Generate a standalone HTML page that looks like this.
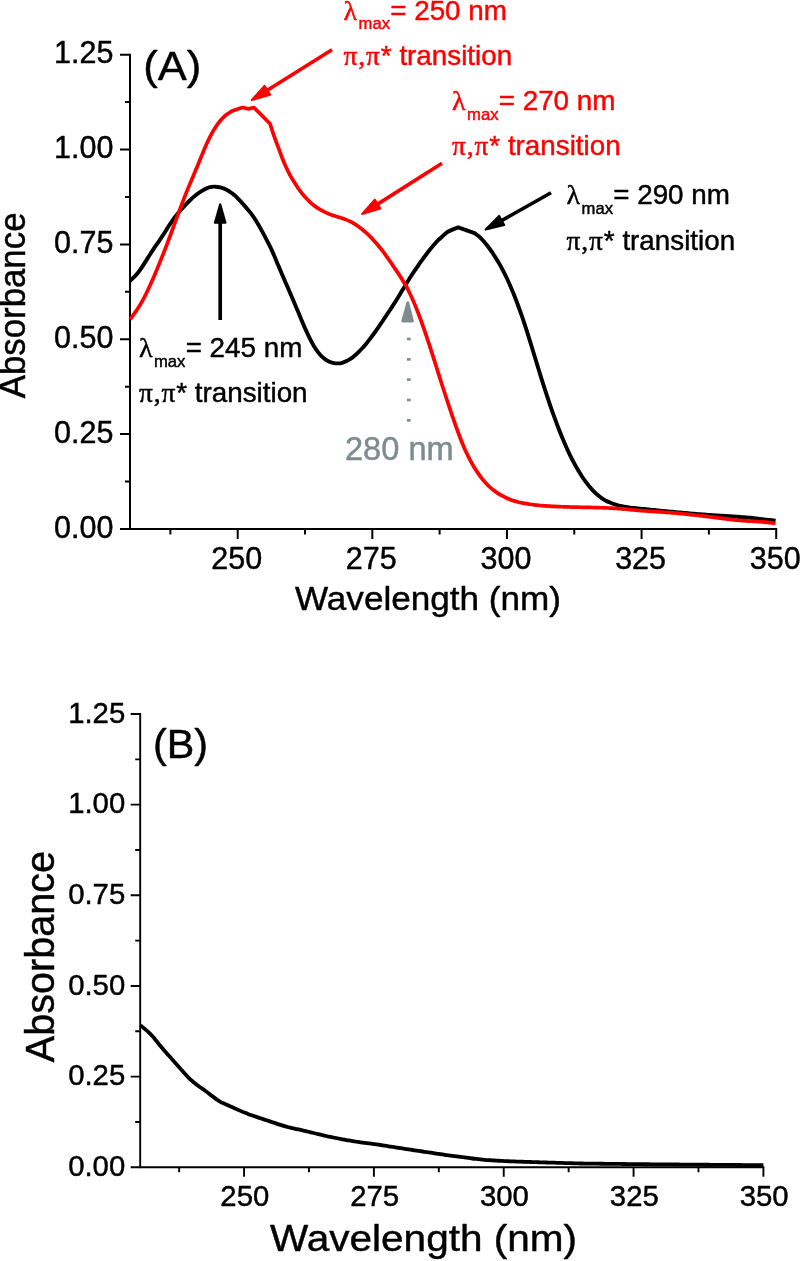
<!DOCTYPE html>
<html lang="en">
<head>
<meta charset="utf-8">
<title>UV-Vis absorbance spectra</title>
<style>
html,body{margin:0;padding:0;background:#fff;}
body{width:800px;height:1261px;overflow:hidden;}
svg{display:block;will-change:transform;}
text{font-family:"Liberation Sans",Arial,Helvetica,sans-serif;fill:#000;stroke:#000;stroke-width:0.45px;stroke-linejoin:round;}
.sym{font-family:"Liberation Serif","Times New Roman",serif;}
.red{fill:#ff0000;stroke:#ff0000;}
.gray{fill:#7f8c8d;stroke:#7f8c8d;}
</style>
</head>
<body>
<svg width="800" height="1261" viewBox="0 0 800 1261">
<rect width="800" height="1261" fill="#fff"/>
<g stroke="#000" stroke-width="2" fill="none" stroke-linecap="butt">
<path d="M130.00 53.70V528.90H777.20"/>
<path d="M130.00 528.90H120.00M130.00 434.06H120.00M130.00 339.22H120.00M130.00 244.38H120.00M130.00 149.54H120.00M130.00 54.70H120.00M130.00 481.48H125.00M130.00 386.64H125.00M130.00 291.80H125.00M130.00 196.96H125.00M130.00 102.12H125.00M237.70 528.90V538.90M372.33 528.90V538.90M506.95 528.90V538.90M641.58 528.90V538.90M776.20 528.90V538.90M170.39 528.90V534.40M305.01 528.90V534.40M439.64 528.90V534.40M574.26 528.90V534.40M708.89 528.90V534.40"/>
</g>
<g font-size="30.5" text-anchor="end">
<text x="113.4" y="537.6">0.00</text>
<text x="113.4" y="442.8">0.25</text>
<text x="113.4" y="347.9">0.50</text>
<text x="113.4" y="253.1">0.75</text>
<text x="113.4" y="158.2">1.00</text>
<text x="113.4" y="63.4">1.25</text>
</g>
<g font-size="30.5" text-anchor="middle">
<text x="236.7" y="568.7">250</text>
<text x="371.3" y="568.7">275</text>
<text x="505.9" y="568.7">300</text>
<text x="640.6" y="568.7">325</text>
<text x="775.2" y="568.7">350</text>
</g>
<text x="295" y="610.4" font-size="33.6" textLength="266" lengthAdjust="spacingAndGlyphs">Wavelength (nm)</text>
<text transform="translate(25.2,398.3) rotate(-90)" font-size="36" textLength="185.8" lengthAdjust="spacingAndGlyphs">Absorbance</text>
<text x="143.3" y="79.6" font-size="41" textLength="58" lengthAdjust="spacingAndGlyphs">(A)</text>
<path d="M130.00 280.80C130.67 280.20 132.67 278.55 134.00 277.20C135.33 275.86 136.67 274.42 138.00 272.75C139.33 271.07 140.67 269.15 142.00 267.17C143.33 265.18 144.67 262.96 146.00 260.84C147.33 258.72 148.67 256.50 150.00 254.43C151.33 252.36 152.67 250.37 154.00 248.40C155.33 246.43 156.67 244.56 158.00 242.61C159.33 240.65 160.67 238.70 162.00 236.67C163.33 234.64 164.67 232.52 166.00 230.43C167.33 228.34 168.67 226.14 170.00 224.12C171.33 222.09 172.67 220.10 174.00 218.29C175.33 216.48 176.67 214.83 178.00 213.23C179.33 211.63 180.67 210.15 182.00 208.67C183.33 207.19 184.67 205.74 186.00 204.34C187.33 202.94 188.67 201.55 190.00 200.27C191.33 198.98 192.67 197.75 194.00 196.62C195.33 195.49 196.67 194.45 198.00 193.48C199.33 192.51 200.67 191.62 202.00 190.81C203.33 190.00 204.67 189.22 206.00 188.62C207.33 188.01 208.67 187.49 210.00 187.17C211.33 186.84 212.67 186.70 214.00 186.66C215.33 186.63 216.67 186.76 218.00 186.96C219.33 187.17 220.67 187.47 222.00 187.89C223.33 188.31 224.67 188.83 226.00 189.48C227.33 190.13 228.67 190.91 230.00 191.80C231.33 192.69 232.67 193.72 234.00 194.85C235.33 195.97 236.67 197.24 238.00 198.57C239.33 199.89 240.67 201.35 242.00 202.82C243.33 204.28 244.67 205.80 246.00 207.36C247.33 208.92 248.67 210.45 250.00 212.17C251.33 213.88 252.67 215.65 254.00 217.63C255.33 219.61 256.67 221.81 258.00 224.06C259.33 226.32 260.67 228.75 262.00 231.16C263.33 233.57 264.67 235.98 266.00 238.53C267.33 241.08 268.67 243.65 270.00 246.45C271.33 249.25 272.67 252.26 274.00 255.32C275.33 258.37 276.67 261.62 278.00 264.77C279.33 267.93 280.67 271.11 282.00 274.23C283.33 277.34 284.67 280.40 286.00 283.47C287.33 286.55 288.67 289.58 290.00 292.66C291.33 295.75 292.67 298.84 294.00 301.99C295.33 305.13 296.67 308.34 298.00 311.53C299.33 314.72 300.67 318.00 302.00 321.15C303.33 324.29 304.67 327.46 306.00 330.42C307.33 333.38 308.67 336.25 310.00 338.88C311.33 341.51 312.67 343.99 314.00 346.20C315.33 348.41 316.67 350.40 318.00 352.15C319.33 353.89 320.67 355.37 322.00 356.66C323.33 357.95 324.67 358.98 326.00 359.86C327.33 360.74 328.67 361.41 330.00 361.96C331.33 362.50 332.67 362.87 334.00 363.11C335.33 363.35 336.67 363.45 338.00 363.39C339.33 363.34 340.67 363.12 342.00 362.78C343.33 362.43 344.67 361.94 346.00 361.33C347.33 360.72 348.67 359.98 350.00 359.12C351.33 358.25 352.67 357.24 354.00 356.15C355.33 355.07 356.67 353.87 358.00 352.60C359.33 351.33 360.67 349.99 362.00 348.54C363.33 347.10 364.67 345.55 366.00 343.94C367.33 342.33 368.67 340.62 370.00 338.88C371.33 337.14 372.67 335.34 374.00 333.50C375.33 331.66 376.67 329.76 378.00 327.84C379.33 325.92 380.67 323.94 382.00 321.97C383.33 319.99 384.67 317.99 386.00 315.99C387.33 313.99 388.67 312.00 390.00 309.97C391.33 307.95 392.67 305.93 394.00 303.84C395.33 301.76 396.67 299.64 398.00 297.48C399.33 295.31 400.67 293.07 402.00 290.85C403.33 288.64 404.67 286.37 406.00 284.19C407.33 282.00 408.67 279.85 410.00 277.75C411.33 275.66 412.67 273.63 414.00 271.63C415.33 269.64 416.67 267.69 418.00 265.78C419.33 263.87 420.67 261.99 422.00 260.15C423.33 258.31 424.67 256.51 426.00 254.74C427.33 252.97 428.67 251.22 430.00 249.55C431.33 247.87 432.67 246.22 434.00 244.69C435.33 243.15 436.67 241.69 438.00 240.35C439.33 239.02 440.42 238.11 442.00 236.70C443.58 235.29 446.58 232.70 447.50 231.90L453.00 229.40L458.20 227.40L474.50 233.10L479.50 236.80L483.50 241.00L488.00 246.50L492.50 252.75L492.50 252.75C493.42 254.22 496.42 258.93 498.00 261.58C499.58 264.23 500.67 266.14 502.00 268.62C503.33 271.11 504.67 273.73 506.00 276.50C507.33 279.27 508.67 282.18 510.00 285.23C511.33 288.28 512.67 291.48 514.00 294.81C515.33 298.14 516.67 301.61 518.00 305.21C519.33 308.82 520.67 312.57 522.00 316.45C523.33 320.32 524.67 324.35 526.00 328.46C527.33 332.57 528.67 336.84 530.00 341.13C531.33 345.42 532.67 349.84 534.00 354.21C535.33 358.58 536.67 363.02 538.00 367.37C539.33 371.71 540.67 376.06 542.00 380.30C543.33 384.54 544.67 388.73 546.00 392.81C547.33 396.90 548.67 400.90 550.00 404.79C551.33 408.69 552.67 412.49 554.00 416.18C555.33 419.88 556.67 423.48 558.00 426.96C559.33 430.43 560.67 433.81 562.00 437.05C563.33 440.30 564.67 443.42 566.00 446.42C567.33 449.42 568.67 452.29 570.00 455.05C571.33 457.81 572.67 460.45 574.00 462.96C575.33 465.48 576.67 467.86 578.00 470.11C579.33 472.37 580.67 474.47 582.00 476.49C583.33 478.50 584.67 480.39 586.00 482.19C587.33 483.99 588.67 485.70 590.00 487.29C591.33 488.87 592.67 490.36 594.00 491.71C595.33 493.05 596.67 494.26 598.00 495.37C599.33 496.47 600.67 497.44 602.00 498.32C603.33 499.21 604.67 499.98 606.00 500.68C607.33 501.39 608.67 501.99 610.00 502.56C611.33 503.12 612.67 503.60 614.00 504.05C615.33 504.50 616.67 504.90 618.00 505.27C619.33 505.63 620.67 505.96 622.00 506.26C623.33 506.55 624.67 506.81 626.00 507.03C627.33 507.25 628.67 507.42 630.00 507.59C631.33 507.75 632.67 507.89 634.00 508.03C635.33 508.17 636.67 508.30 638.00 508.43C639.33 508.56 640.67 508.70 642.00 508.83C643.33 508.96 644.67 509.10 646.00 509.23C647.33 509.36 648.67 509.50 650.00 509.63C651.33 509.77 652.67 509.90 654.00 510.04C655.33 510.17 656.67 510.31 658.00 510.44C659.33 510.57 660.67 510.71 662.00 510.84C663.33 510.98 664.67 511.11 666.00 511.24C667.33 511.37 668.67 511.50 670.00 511.63C671.33 511.75 672.67 511.87 674.00 511.99C675.33 512.12 676.67 512.23 678.00 512.35C679.33 512.47 680.67 512.59 682.00 512.70C683.33 512.82 684.67 512.94 686.00 513.05C687.33 513.17 688.67 513.29 690.00 513.40C691.33 513.52 692.67 513.64 694.00 513.75C695.33 513.87 696.67 513.98 698.00 514.09C699.33 514.20 700.67 514.31 702.00 514.41C703.33 514.51 704.67 514.61 706.00 514.70C707.33 514.79 708.67 514.87 710.00 514.96C711.33 515.04 712.67 515.12 714.00 515.21C715.33 515.29 716.67 515.37 718.00 515.45C719.33 515.54 720.67 515.62 722.00 515.70C723.33 515.78 724.67 515.86 726.00 515.95C727.33 516.03 728.67 516.11 730.00 516.20C731.33 516.29 732.67 516.38 734.00 516.47C735.33 516.57 736.67 516.67 738.00 516.77C739.33 516.88 740.67 516.99 742.00 517.10C743.33 517.21 744.67 517.32 746.00 517.43C747.33 517.55 748.67 517.66 750.00 517.79C751.33 517.91 752.67 518.03 754.00 518.17C755.33 518.31 756.67 518.46 758.00 518.61C759.33 518.76 760.67 518.92 762.00 519.08C763.33 519.24 764.67 519.41 766.00 519.57C767.33 519.73 768.67 519.89 770.00 520.03C771.33 520.18 773.08 520.31 774.00 520.43C774.92 520.55 775.25 520.70 775.50 520.75" fill="none" stroke="#000" stroke-width="3.9" stroke-linejoin="round" stroke-linecap="butt"/>
<path d="M130.00 319.40C130.67 318.50 132.67 315.85 134.00 314.00C135.33 312.14 136.67 310.31 138.00 308.25C139.33 306.20 140.67 304.05 142.00 301.67C143.33 299.30 144.67 296.70 146.00 294.00C147.33 291.30 148.67 288.40 150.00 285.47C151.33 282.54 152.67 279.49 154.00 276.40C155.33 273.31 156.67 270.15 158.00 266.92C159.33 263.69 160.67 260.40 162.00 257.05C163.33 253.70 164.67 250.28 166.00 246.81C167.33 243.34 168.67 239.80 170.00 236.23C171.33 232.65 172.67 228.99 174.00 225.36C175.33 221.72 176.67 218.03 178.00 214.42C179.33 210.81 180.67 207.20 182.00 203.70C183.33 200.20 184.67 196.75 186.00 193.40C187.33 190.05 188.67 186.82 190.00 183.63C191.33 180.43 192.67 177.38 194.00 174.22C195.33 171.06 196.67 167.91 198.00 164.68C199.33 161.45 200.67 158.06 202.00 154.83C203.33 151.60 204.67 148.31 206.00 145.31C207.33 142.31 208.67 139.45 210.00 136.83C211.33 134.21 212.67 131.81 214.00 129.60C215.33 127.39 216.67 125.39 218.00 123.57C219.33 121.76 220.67 120.15 222.00 118.72C223.33 117.29 224.67 116.08 226.00 115.01C227.33 113.94 228.67 113.09 230.00 112.31C231.33 111.53 231.90 111.14 234.00 110.34C236.10 109.54 241.17 107.97 242.60 107.50L248.25 108.90L253.90 107.50L261.50 115.00L270.00 123.75L270.00 123.75C270.67 125.78 272.67 132.12 274.00 135.94C275.33 139.75 276.67 143.07 278.00 146.66C279.33 150.25 280.67 154.07 282.00 157.48C283.33 160.89 284.67 164.18 286.00 167.11C287.33 170.05 288.67 172.62 290.00 175.08C291.33 177.53 292.67 179.70 294.00 181.84C295.33 183.98 296.67 186.01 298.00 187.94C299.33 189.86 300.67 191.71 302.00 193.40C303.33 195.10 304.67 196.65 306.00 198.10C307.33 199.55 308.67 200.86 310.00 202.08C311.33 203.30 312.67 204.41 314.00 205.43C315.33 206.46 316.67 207.38 318.00 208.25C319.33 209.11 320.67 209.89 322.00 210.63C323.33 211.36 324.67 212.04 326.00 212.66C327.33 213.29 328.67 213.86 330.00 214.39C331.33 214.91 332.67 215.36 334.00 215.80C335.33 216.23 336.67 216.58 338.00 216.98C339.33 217.37 340.67 217.73 342.00 218.18C343.33 218.62 344.67 219.09 346.00 219.64C347.33 220.19 348.67 220.80 350.00 221.47C351.33 222.13 352.67 222.86 354.00 223.66C355.33 224.46 356.67 225.32 358.00 226.25C359.33 227.18 360.67 228.18 362.00 229.24C363.33 230.31 364.67 231.44 366.00 232.63C367.33 233.83 368.67 235.10 370.00 236.43C371.33 237.77 372.67 239.17 374.00 240.63C375.33 242.10 376.67 243.64 378.00 245.24C379.33 246.84 380.67 248.51 382.00 250.24C383.33 251.97 384.67 253.77 386.00 255.62C387.33 257.46 388.67 259.39 390.00 261.31C391.33 263.24 392.67 265.21 394.00 267.17C395.33 269.12 396.67 271.06 398.00 273.06C399.33 275.07 400.67 277.04 402.00 279.19C403.33 281.34 404.67 283.53 406.00 285.96C407.33 288.38 408.67 290.96 410.00 293.74C411.33 296.51 412.67 299.49 414.00 302.62C415.33 305.75 416.67 309.08 418.00 312.53C419.33 315.98 420.67 319.60 422.00 323.32C423.33 327.03 424.67 330.89 426.00 334.82C427.33 338.75 428.67 342.80 430.00 346.89C431.33 350.99 432.67 355.21 434.00 359.41C435.33 363.61 436.67 367.90 438.00 372.12C439.33 376.33 440.67 380.56 442.00 384.72C443.33 388.87 444.67 392.98 446.00 397.04C447.33 401.10 448.67 405.12 450.00 409.08C451.33 413.04 452.67 416.97 454.00 420.79C455.33 424.61 456.67 428.40 458.00 432.01C459.33 435.62 460.67 439.16 462.00 442.47C463.33 445.78 464.67 448.93 466.00 451.85C467.33 454.76 468.67 457.44 470.00 459.96C471.33 462.47 472.67 464.76 474.00 466.95C475.33 469.14 476.67 471.16 478.00 473.09C479.33 475.03 480.67 476.84 482.00 478.53C483.33 480.23 484.67 481.81 486.00 483.26C487.33 484.72 488.67 486.04 490.00 487.26C491.33 488.47 492.67 489.56 494.00 490.57C495.33 491.59 496.67 492.49 498.00 493.34C499.33 494.20 500.67 494.97 502.00 495.70C503.33 496.44 504.67 497.11 506.00 497.74C507.33 498.36 508.67 498.94 510.00 499.46C511.33 499.99 512.67 500.45 514.00 500.87C515.33 501.29 516.67 501.65 518.00 501.98C519.33 502.31 520.67 502.60 522.00 502.88C523.33 503.15 524.67 503.40 526.00 503.62C527.33 503.85 528.67 504.06 530.00 504.25C531.33 504.45 532.67 504.62 534.00 504.79C535.33 504.96 536.67 505.12 538.00 505.26C539.33 505.40 540.67 505.53 542.00 505.64C543.33 505.75 544.67 505.85 546.00 505.94C547.33 506.03 548.67 506.11 550.00 506.19C551.33 506.27 552.67 506.34 554.00 506.41C555.33 506.48 556.67 506.55 558.00 506.60C559.33 506.66 560.67 506.71 562.00 506.76C563.33 506.81 564.67 506.85 566.00 506.89C567.33 506.93 568.67 506.97 570.00 507.01C571.33 507.05 572.67 507.08 574.00 507.11C575.33 507.15 576.67 507.18 578.00 507.21C579.33 507.24 580.67 507.26 582.00 507.29C583.33 507.32 584.67 507.34 586.00 507.37C587.33 507.40 588.67 507.42 590.00 507.45C591.33 507.48 592.67 507.50 594.00 507.53C595.33 507.56 596.67 507.59 598.00 507.62C599.33 507.65 600.67 507.68 602.00 507.73C603.33 507.77 604.67 507.82 606.00 507.88C607.33 507.94 608.67 508.01 610.00 508.09C611.33 508.16 612.67 508.25 614.00 508.33C615.33 508.41 616.67 508.50 618.00 508.59C619.33 508.68 620.67 508.78 622.00 508.88C623.33 508.98 624.67 509.09 626.00 509.21C627.33 509.33 628.67 509.46 630.00 509.59C631.33 509.72 632.67 509.86 634.00 509.99C635.33 510.12 636.67 510.25 638.00 510.38C639.33 510.50 640.67 510.62 642.00 510.73C643.33 510.83 644.67 510.93 646.00 511.03C647.33 511.12 648.67 511.21 650.00 511.30C651.33 511.39 652.67 511.47 654.00 511.56C655.33 511.65 656.67 511.73 658.00 511.82C659.33 511.91 660.67 511.99 662.00 512.08C663.33 512.17 664.67 512.26 666.00 512.36C667.33 512.45 668.67 512.55 670.00 512.66C671.33 512.77 672.67 512.88 674.00 513.00C675.33 513.13 676.67 513.25 678.00 513.38C679.33 513.51 680.67 513.64 682.00 513.77C683.33 513.90 684.67 514.03 686.00 514.17C687.33 514.31 688.67 514.44 690.00 514.59C691.33 514.73 692.67 514.88 694.00 515.03C695.33 515.18 696.67 515.33 698.00 515.48C699.33 515.63 700.67 515.79 702.00 515.94C703.33 516.10 704.67 516.25 706.00 516.40C707.33 516.56 708.67 516.71 710.00 516.87C711.33 517.02 712.67 517.18 714.00 517.34C715.33 517.50 716.67 517.66 718.00 517.82C719.33 517.98 720.67 518.15 722.00 518.31C723.33 518.48 724.67 518.65 726.00 518.81C727.33 518.98 728.67 519.15 730.00 519.31C731.33 519.48 732.67 519.64 734.00 519.80C735.33 519.96 736.67 520.12 738.00 520.26C739.33 520.41 740.67 520.54 742.00 520.65C743.33 520.76 744.67 520.85 746.00 520.94C747.33 521.02 748.67 521.09 750.00 521.16C751.33 521.23 752.67 521.30 754.00 521.37C755.33 521.44 756.67 521.52 758.00 521.61C759.33 521.70 760.67 521.80 762.00 521.91C763.33 522.02 764.67 522.16 766.00 522.29C767.33 522.42 768.67 522.57 770.00 522.69C771.33 522.82 773.08 522.95 774.00 523.06C774.92 523.17 775.25 523.30 775.50 523.35" fill="none" stroke="#ff0000" stroke-width="3.7" stroke-linejoin="round" stroke-linecap="butt"/>
<path d="M332.00 49.75L266.53 90.80" stroke="#ff0000" stroke-width="3.60" fill="none"/><path d="M251.83 100.02L264.56 85.96L270.03 94.68Z" fill="#ff0000" stroke="#ff0000" stroke-width="2.20" stroke-linejoin="round"/>
<path d="M442.00 163.25L376.87 204.61" stroke="#ff0000" stroke-width="3.60" fill="none"/><path d="M362.23 213.91L374.87 199.78L380.39 208.47Z" fill="#ff0000" stroke="#ff0000" stroke-width="2.20" stroke-linejoin="round"/>
<path d="M551.00 192.80L500.84 220.97" stroke="#000" stroke-width="3.60" fill="none"/><path d="M485.71 229.46L499.10 216.04L504.14 225.01Z" fill="#000" stroke="#000" stroke-width="2.20" stroke-linejoin="round"/>
<path d="M220.20 320.00L220.20 221.80" stroke="#000" stroke-width="3.70" fill="none"/><path d="M220.20 204.40L225.44 222.70L214.96 222.70Z" fill="#000" stroke="#000" stroke-width="2.20" stroke-linejoin="round"/>
<path d="M406.6 301.8Q407.8 300.6 409 301.8L413.8 320.6Q414 322.5 412.6 322.5H402.6Q401.2 322.5 401.4 320.6Z" fill="#7f8c8d"/>
<rect x="406.9" y="337.7" width="3.8" height="2.6" fill="#7f8c8d"/>
<rect x="406.9" y="358.1" width="3.8" height="2.6" fill="#7f8c8d"/>
<rect x="406.9" y="378.3" width="3.8" height="2.6" fill="#7f8c8d"/>
<rect x="406.9" y="398.7" width="3.8" height="2.6" fill="#7f8c8d"/>
<rect x="406.9" y="419.0" width="3.8" height="2.6" fill="#7f8c8d"/>
<text x="345.0" y="459.7" font-size="32.6" class="gray" fill="#7f8c8d">280 nm</text>
<text x="343.50" y="19.50" font-size="27.8" fill="#ff0000" class="red"><tspan class="sym" font-family="Liberation Serif" font-size="28">λ</tspan><tspan font-size="16.6" dx="1.5" dy="9.8">max</tspan><tspan dx="0.3" dy="-9.8">= 250 nm</tspan></text><text x="343.50" y="64.80" font-size="27.8" fill="#ff0000" class="red"><tspan class="sym" font-family="Liberation Serif" font-size="27.5" letter-spacing="0.9">π,π</tspan><tspan dx="0">* transition</tspan></text>
<text x="452.00" y="109.70" font-size="27.8" fill="#ff0000" class="red"><tspan class="sym" font-family="Liberation Serif" font-size="28">λ</tspan><tspan font-size="16.6" dx="1.5" dy="9.8">max</tspan><tspan dx="0.3" dy="-9.8">= 270 nm</tspan></text><text x="452.00" y="155.00" font-size="27.8" fill="#ff0000" class="red"><tspan class="sym" font-family="Liberation Serif" font-size="27.5" letter-spacing="0.9">π,π</tspan><tspan dx="0">* transition</tspan></text>
<text x="566.50" y="204.20" font-size="27.8" fill="#000"><tspan class="sym" font-family="Liberation Serif" font-size="28">λ</tspan><tspan font-size="16.6" dx="1.5" dy="9.8">max</tspan><tspan dx="0.3" dy="-9.8">= 290 nm</tspan></text><text x="566.50" y="249.50" font-size="27.8" fill="#000"><tspan class="sym" font-family="Liberation Serif" font-size="27.5" letter-spacing="0.9">π,π</tspan><tspan dx="0">* transition</tspan></text>
<text x="138.90" y="357.00" font-size="27.8" fill="#000"><tspan class="sym" font-family="Liberation Serif" font-size="28">λ</tspan><tspan font-size="16.6" dx="1.5" dy="9.8">max</tspan><tspan dx="0.3" dy="-9.8">= 245 nm</tspan></text><text x="138.90" y="402.30" font-size="27.8" fill="#000"><tspan class="sym" font-family="Liberation Serif" font-size="27.5" letter-spacing="0.9">π,π</tspan><tspan dx="0">* transition</tspan></text>
<g stroke="#000" stroke-width="1.9" fill="none">
<path d="M140.20 713.05V1167.30H764.35"/>
<path d="M140.20 1167.30H130.70M140.20 1076.64H130.70M140.20 985.98H130.70M140.20 895.32H130.70M140.20 804.66H130.70M140.20 714.00H130.70M140.20 1121.97H135.20M140.20 1031.31H135.20M140.20 940.65H135.20M140.20 849.99H135.20M140.20 759.33H135.20M244.07 1167.30V1176.80M373.90 1167.30V1176.80M503.73 1167.30V1176.80M633.57 1167.30V1176.80M763.40 1167.30V1176.80M179.15 1167.30V1172.30M308.98 1167.30V1172.30M438.82 1167.30V1172.30M568.65 1167.30V1172.30M698.48 1167.30V1172.30"/>
</g>
<g font-size="29.3" text-anchor="end">
<text x="125.2" y="1175.9">0.00</text>
<text x="125.2" y="1085.2">0.25</text>
<text x="125.2" y="994.6">0.50</text>
<text x="125.2" y="903.9">0.75</text>
<text x="125.2" y="813.3">1.00</text>
<text x="125.2" y="722.6">1.25</text>
</g>
<g font-size="29.3" text-anchor="middle">
<text x="244.8" y="1205.7">250</text>
<text x="374.6" y="1205.7">275</text>
<text x="504.4" y="1205.7">300</text>
<text x="634.3" y="1205.7">325</text>
<text x="764.1" y="1205.7">350</text>
</g>
<text x="270" y="1251" font-size="37.4" textLength="307" lengthAdjust="spacingAndGlyphs">Wavelength (nm)</text>
<text transform="translate(53.8,1062.2) rotate(-90)" font-size="41" textLength="211.2" lengthAdjust="spacingAndGlyphs">Absorbance</text>
<text x="153" y="757.8" font-size="40" textLength="55" lengthAdjust="spacingAndGlyphs">(B)</text>
<path d="M140.50 1025.30C141.17 1025.86 143.17 1027.50 144.50 1028.65C145.83 1029.80 147.17 1030.92 148.50 1032.19C149.83 1033.47 151.17 1034.82 152.50 1036.30C153.83 1037.78 155.17 1039.45 156.50 1041.07C157.83 1042.70 159.17 1044.42 160.50 1046.05C161.83 1047.67 163.17 1049.27 164.50 1050.81C165.83 1052.36 167.17 1053.84 168.50 1055.33C169.83 1056.81 171.17 1058.26 172.50 1059.74C173.83 1061.21 175.17 1062.68 176.50 1064.17C177.83 1065.67 179.17 1067.18 180.50 1068.70C181.83 1070.22 183.17 1071.80 184.50 1073.27C185.83 1074.75 187.17 1076.24 188.50 1077.57C189.83 1078.90 191.17 1080.09 192.50 1081.25C193.83 1082.41 195.17 1083.47 196.50 1084.51C197.83 1085.56 199.17 1086.53 200.50 1087.50C201.83 1088.46 203.17 1089.35 204.50 1090.31C205.83 1091.26 207.17 1092.20 208.50 1093.21C209.83 1094.21 211.17 1095.32 212.50 1096.34C213.83 1097.36 215.17 1098.44 216.50 1099.35C217.83 1100.26 219.17 1101.05 220.50 1101.79C221.83 1102.53 223.17 1103.13 224.50 1103.77C225.83 1104.40 227.17 1104.98 228.50 1105.58C229.83 1106.18 231.17 1106.77 232.50 1107.36C233.83 1107.95 235.17 1108.54 236.50 1109.13C237.83 1109.72 239.17 1110.31 240.50 1110.88C241.83 1111.46 243.17 1112.04 244.50 1112.59C245.83 1113.13 247.17 1113.66 248.50 1114.16C249.83 1114.66 251.17 1115.11 252.50 1115.57C253.83 1116.03 255.17 1116.47 256.50 1116.92C257.83 1117.36 259.17 1117.81 260.50 1118.25C261.83 1118.69 263.17 1119.14 264.50 1119.58C265.83 1120.03 267.17 1120.47 268.50 1120.92C269.83 1121.36 271.17 1121.81 272.50 1122.25C273.83 1122.69 275.17 1123.14 276.50 1123.58C277.83 1124.03 279.17 1124.48 280.50 1124.90C281.83 1125.33 283.17 1125.76 284.50 1126.15C285.83 1126.54 287.17 1126.89 288.50 1127.23C289.83 1127.56 291.17 1127.86 292.50 1128.16C293.83 1128.46 295.17 1128.75 296.50 1129.04C297.83 1129.33 299.17 1129.62 300.50 1129.91C301.83 1130.21 303.17 1130.51 304.50 1130.81C305.83 1131.12 307.17 1131.44 308.50 1131.76C309.83 1132.08 311.17 1132.41 312.50 1132.74C313.83 1133.07 315.17 1133.41 316.50 1133.74C317.83 1134.07 319.17 1134.40 320.50 1134.72C321.83 1135.05 323.17 1135.37 324.50 1135.67C325.83 1135.97 327.17 1136.26 328.50 1136.54C329.83 1136.81 331.17 1137.08 332.50 1137.35C333.83 1137.62 335.17 1137.88 336.50 1138.15C337.83 1138.42 339.17 1138.68 340.50 1138.94C341.83 1139.20 343.17 1139.46 344.50 1139.71C345.83 1139.95 347.17 1140.18 348.50 1140.41C349.83 1140.64 351.17 1140.86 352.50 1141.08C353.83 1141.31 355.17 1141.53 356.50 1141.75C357.83 1141.96 359.17 1142.19 360.50 1142.38C361.83 1142.57 363.17 1142.75 364.50 1142.90C365.83 1143.06 367.17 1143.16 368.50 1143.30C369.83 1143.45 371.17 1143.59 372.50 1143.77C373.83 1143.95 375.17 1144.15 376.50 1144.36C377.83 1144.56 379.17 1144.79 380.50 1145.00C381.83 1145.21 383.17 1145.43 384.50 1145.65C385.83 1145.86 387.17 1146.08 388.50 1146.30C389.83 1146.51 391.17 1146.73 392.50 1146.94C393.83 1147.15 395.17 1147.37 396.50 1147.57C397.83 1147.78 399.17 1147.98 400.50 1148.19C401.83 1148.39 403.17 1148.59 404.50 1148.79C405.83 1148.99 407.17 1149.19 408.50 1149.39C409.83 1149.59 411.17 1149.79 412.50 1150.00C413.83 1150.20 415.17 1150.40 416.50 1150.60C417.83 1150.80 419.17 1151.00 420.50 1151.20C421.83 1151.40 423.17 1151.60 424.50 1151.80C425.83 1151.99 427.17 1152.19 428.50 1152.39C429.83 1152.59 431.17 1152.79 432.50 1152.99C433.83 1153.18 435.17 1153.38 436.50 1153.58C437.83 1153.78 439.17 1153.98 440.50 1154.17C441.83 1154.37 443.17 1154.57 444.50 1154.77C445.83 1154.96 447.17 1155.16 448.50 1155.34C449.83 1155.53 451.17 1155.71 452.50 1155.89C453.83 1156.07 455.17 1156.24 456.50 1156.42C457.83 1156.59 459.17 1156.77 460.50 1156.94C461.83 1157.12 463.17 1157.30 464.50 1157.47C465.83 1157.64 467.17 1157.82 468.50 1157.99C469.83 1158.17 471.17 1158.34 472.50 1158.50C473.83 1158.67 475.17 1158.82 476.50 1158.97C477.83 1159.12 479.17 1159.26 480.50 1159.40C481.83 1159.53 483.17 1159.66 484.50 1159.79C485.83 1159.91 487.17 1160.03 488.50 1160.13C489.83 1160.23 491.17 1160.32 492.50 1160.40C493.83 1160.48 495.17 1160.56 496.50 1160.63C497.83 1160.71 499.17 1160.78 500.50 1160.86C501.83 1160.93 503.17 1161.00 504.50 1161.07C505.83 1161.13 507.17 1161.20 508.50 1161.25C509.83 1161.30 511.17 1161.35 512.50 1161.40C513.83 1161.45 515.17 1161.49 516.50 1161.53C517.83 1161.58 519.17 1161.62 520.50 1161.67C521.83 1161.71 523.17 1161.76 524.50 1161.80C525.83 1161.84 527.17 1161.89 528.50 1161.93C529.83 1161.97 531.17 1162.01 532.50 1162.05C533.83 1162.09 535.17 1162.13 536.50 1162.17C537.83 1162.21 539.17 1162.26 540.50 1162.30C541.83 1162.34 543.17 1162.38 544.50 1162.42C545.83 1162.46 547.17 1162.50 548.50 1162.54C549.83 1162.58 551.17 1162.62 552.50 1162.66C553.83 1162.70 555.17 1162.74 556.50 1162.78C557.83 1162.82 559.17 1162.87 560.50 1162.91C561.83 1162.95 563.17 1162.99 564.50 1163.03C565.83 1163.07 567.17 1163.11 568.50 1163.15C569.83 1163.19 571.17 1163.23 572.50 1163.27C573.83 1163.31 575.17 1163.35 576.50 1163.39C577.83 1163.42 579.17 1163.46 580.50 1163.48C581.83 1163.51 583.17 1163.53 584.50 1163.55C585.83 1163.57 587.17 1163.58 588.50 1163.60C589.83 1163.62 591.17 1163.63 592.50 1163.65C593.83 1163.66 595.17 1163.68 596.50 1163.69C597.83 1163.71 599.17 1163.72 600.50 1163.74C601.83 1163.75 603.17 1163.77 604.50 1163.79C605.83 1163.80 607.17 1163.82 608.50 1163.83C609.83 1163.85 611.17 1163.86 612.50 1163.88C613.83 1163.89 615.17 1163.91 616.50 1163.93C617.83 1163.94 619.17 1163.96 620.50 1163.97C621.83 1163.99 623.17 1164.00 624.50 1164.02C625.83 1164.03 627.17 1164.05 628.50 1164.07C629.83 1164.08 631.17 1164.10 632.50 1164.11C633.83 1164.13 635.17 1164.14 636.50 1164.16C637.83 1164.17 639.17 1164.19 640.50 1164.20C641.83 1164.21 643.17 1164.23 644.50 1164.24C645.83 1164.25 647.17 1164.26 648.50 1164.27C649.83 1164.28 651.17 1164.29 652.50 1164.30C653.83 1164.32 655.17 1164.33 656.50 1164.34C657.83 1164.35 659.17 1164.36 660.50 1164.37C661.83 1164.38 663.17 1164.39 664.50 1164.40C665.83 1164.42 667.17 1164.43 668.50 1164.44C669.83 1164.45 671.17 1164.46 672.50 1164.47C673.83 1164.48 675.17 1164.49 676.50 1164.50C677.83 1164.52 679.17 1164.53 680.50 1164.54C681.83 1164.55 683.17 1164.56 684.50 1164.57C685.83 1164.58 687.17 1164.59 688.50 1164.60C689.83 1164.62 691.17 1164.63 692.50 1164.64C693.83 1164.65 695.17 1164.66 696.50 1164.67C697.83 1164.68 699.17 1164.69 700.50 1164.70C701.83 1164.71 703.17 1164.72 704.50 1164.74C705.83 1164.75 707.17 1164.76 708.50 1164.77C709.83 1164.78 711.17 1164.79 712.50 1164.80C713.83 1164.81 715.17 1164.82 716.50 1164.83C717.83 1164.84 719.17 1164.85 720.50 1164.86C721.83 1164.87 723.17 1164.88 724.50 1164.89C725.83 1164.90 727.17 1164.91 728.50 1164.92C729.83 1164.94 731.17 1164.95 732.50 1164.96C733.83 1164.97 735.17 1164.98 736.50 1164.99C737.83 1165.00 739.17 1165.01 740.50 1165.02C741.83 1165.03 743.17 1165.04 744.50 1165.05C745.83 1165.06 747.17 1165.07 748.50 1165.08C749.83 1165.09 751.17 1165.10 752.50 1165.11C753.83 1165.12 755.17 1165.14 756.50 1165.15C757.83 1165.16 759.35 1165.17 760.50 1165.17C761.65 1165.18 762.92 1165.20 763.40 1165.20" fill="none" stroke="#000" stroke-width="3.8" stroke-linejoin="round"/>
</svg>
</body>
</html>
